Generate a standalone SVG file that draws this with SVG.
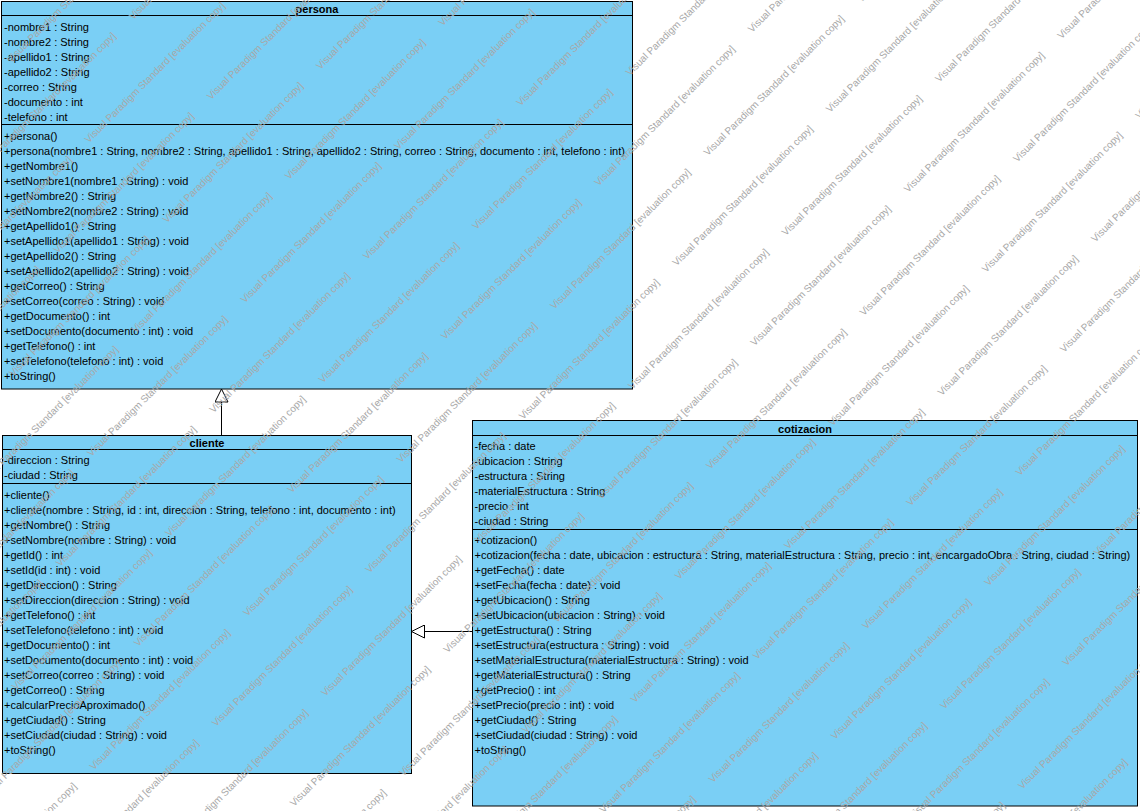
<svg xmlns="http://www.w3.org/2000/svg" width="1140" height="811" viewBox="0 0 1140 811">
<style>
.box{fill:#7ACFF5;stroke:#000;stroke-width:1}
.sep{stroke:#000;stroke-width:1}
.t{font-family:"Liberation Sans",Arial,sans-serif;font-size:11px;fill:#000}
.h{font-weight:bold;text-anchor:middle}
.wm{font-family:"Liberation Sans",Arial,sans-serif;font-size:10px;fill:#a8a8a8}
.conn{stroke:#000;stroke-width:1;fill:none}
</style>
<defs>
<marker id="gen" markerUnits="userSpaceOnUse" viewBox="0 0 14 14" markerWidth="14" markerHeight="14" refX="13.5" refY="7" orient="auto">
<path d="M0.5,0.5 L13.5,7 L0.5,13.5 Z" fill="#fff" stroke="#000" stroke-width="1"/>
</marker>
</defs>
<rect width="1140" height="811" fill="#fff"/>

<g id="persona">
<rect class="box" x="1.5" y="1.5" width="631" height="387.5"/>
<line class="sep" x1="1.5" y1="15.5" x2="632.5" y2="15.5"/>
<line class="sep" x1="1.5" y1="124.5" x2="632.5" y2="124.5"/>
<text class="t h" x="317" y="13">persona</text>
<text class="t" x="4" y="30.5">-nombre1 : String</text>
<text class="t" x="4" y="45.5">-nombre2 : String</text>
<text class="t" x="4" y="60.5">-apellido1 : String</text>
<text class="t" x="4" y="75.5">-apellido2 : String</text>
<text class="t" x="4" y="90.5">-correo : String</text>
<text class="t" x="4" y="105.5">-documento : int</text>
<text class="t" x="4" y="120.5">-telefono : int</text>
<text class="t" x="4" y="140">+persona()</text>
<text class="t" x="4" y="155">+persona(nombre1 : String, nombre2 : String, apellido1 : String, apellido2 : String, correo : String, documento : int, telefono : int)</text>
<text class="t" x="4" y="170">+getNombre1()</text>
<text class="t" x="4" y="185">+setNombre1(nombre1 : String) : void</text>
<text class="t" x="4" y="200">+getNombre2() : String</text>
<text class="t" x="4" y="215">+setNombre2(nombre2 : String) : void</text>
<text class="t" x="4" y="230">+getApellido1() : String</text>
<text class="t" x="4" y="245">+setApellido1(apellido1 : String) : void</text>
<text class="t" x="4" y="260">+getApellido2() : String</text>
<text class="t" x="4" y="275">+setApellido2(apellido2 : String) : void</text>
<text class="t" x="4" y="290">+getCorreo() : String</text>
<text class="t" x="4" y="305">+setCorreo(correo : String) : void</text>
<text class="t" x="4" y="320">+getDocumento() : int</text>
<text class="t" x="4" y="335">+setDocumento(documento : int) : void</text>
<text class="t" x="4" y="350">+getTelefono() : int</text>
<text class="t" x="4" y="365">+setTelefono(telefono : int) : void</text>
<text class="t" x="4" y="380">+toString()</text>
</g>

<g id="cliente">
<rect class="box" x="2.5" y="435.5" width="409" height="338"/>
<line class="sep" x1="2.5" y1="449.5" x2="411.5" y2="449.5"/>
<line class="sep" x1="2.5" y1="483.5" x2="411.5" y2="483.5"/>
<text class="t h" x="207" y="447">cliente</text>
<text class="t" x="4" y="464">-direccion : String</text>
<text class="t" x="4" y="479">-ciudad : String</text>
<text class="t" x="4" y="498.5">+cliente()</text>
<text class="t" x="4" y="513.5">+cliente(nombre : String, id : int, direccion : String, telefono : int, documento : int)</text>
<text class="t" x="4" y="528.5">+getNombre() : String</text>
<text class="t" x="4" y="543.5">+setNombre(nombre : String) : void</text>
<text class="t" x="4" y="558.5">+getId() : int</text>
<text class="t" x="4" y="573.5">+setId(id : int) : void</text>
<text class="t" x="4" y="588.5">+getDireccion() : String</text>
<text class="t" x="4" y="603.5">+setDireccion(direccion : String) : void</text>
<text class="t" x="4" y="618.5">+getTelefono() : int</text>
<text class="t" x="4" y="633.5">+setTelefono(telefono : int) : void</text>
<text class="t" x="4" y="648.5">+getDocumento() : int</text>
<text class="t" x="4" y="663.5">+setDocumento(documento : int) : void</text>
<text class="t" x="4" y="678.5">+setCorreo(correo : String) : void</text>
<text class="t" x="4" y="693.5">+getCorreo() : String</text>
<text class="t" x="4" y="708.5">+calcularPrecioAproximado()</text>
<text class="t" x="4" y="723.5">+getCiudad() : String</text>
<text class="t" x="4" y="738.5">+setCiudad(ciudad : String) : void</text>
<text class="t" x="4" y="753.5">+toString()</text>
</g>

<g id="cotizacion">
<rect class="box" x="472.5" y="420.5" width="665" height="385.5"/>
<line class="sep" x1="472.5" y1="435.5" x2="1137.5" y2="435.5"/>
<line class="sep" x1="472.5" y1="529.5" x2="1137.5" y2="529.5"/>
<text class="t h" x="805" y="432.5">cotizacion</text>
<text class="t" x="474.5" y="450">-fecha : date</text>
<text class="t" x="474.5" y="465">-ubicacion : String</text>
<text class="t" x="474.5" y="480">-estructura : String</text>
<text class="t" x="474.5" y="495">-materialEstructura : String</text>
<text class="t" x="474.5" y="510">-precio : int</text>
<text class="t" x="474.5" y="525">-ciudad : String</text>
<text class="t" x="474.5" y="544">+cotizacion()</text>
<text class="t" x="474.5" y="559">+cotizacion(fecha : date, ubicacion : estructura : String, materialEstructura : String, precio : int, encargadoObra : String, ciudad : String)</text>
<text class="t" x="474.5" y="574">+getFecha() : date</text>
<text class="t" x="474.5" y="589">+setFecha(fecha : date) : void</text>
<text class="t" x="474.5" y="604">+getUbicacion() : String</text>
<text class="t" x="474.5" y="619">+setUbicacion(ubicacion : String) : void</text>
<text class="t" x="474.5" y="634">+getEstructura() : String</text>
<text class="t" x="474.5" y="649">+setEstructura(estructura : String) : void</text>
<text class="t" x="474.5" y="664">+setMaterialEstructura(materialEstructura : String) : void</text>
<text class="t" x="474.5" y="679">+getMaterialEstructura() : String</text>
<text class="t" x="474.5" y="694">+getPrecio() : int</text>
<text class="t" x="474.5" y="709">+setPrecio(precio : int) : void</text>
<text class="t" x="474.5" y="724">+getCiudad() : String</text>
<text class="t" x="474.5" y="739">+setCiudad(ciudad : String) : void</text>
<text class="t" x="474.5" y="754">+toString()</text>
</g>

<g id="connectors">
<line class="conn" x1="221.5" y1="435.5" x2="221.5" y2="389" marker-end="url(#gen)"/>
<line class="conn" x1="472.5" y1="631.5" x2="411.5" y2="631.5" marker-end="url(#gen)"/>
</g>

<g id="watermark" class="wm" transform="rotate(-45)">
<text y="52.5"><tspan x="-37.3">Visual Paradigm Standard [evaluation copy]</tspan></text>
<text y="108.3"><tspan x="-137.3">Visual Paradigm Standard [evaluation copy]</tspan><tspan x="79.8">Visual Paradigm Standard [evaluation copy]</tspan></text>
<text y="164.2"><tspan x="-255.8">Visual Paradigm Standard [evaluation copy]</tspan><tspan x="-38.7">Visual Paradigm Standard [evaluation copy]</tspan></text>
<text y="220"><tspan x="-355.8">Visual Paradigm Standard [evaluation copy]</tspan><tspan x="-138.7">Visual Paradigm Standard [evaluation copy]</tspan><tspan x="78.4">Visual Paradigm Standard [evaluation copy]</tspan></text>
<text y="275.9"><tspan x="-257.2">Visual Paradigm Standard [evaluation copy]</tspan><tspan x="-40.1">Visual Paradigm Standard [evaluation copy]</tspan><tspan x="177">Visual Paradigm Standard [evaluation copy]</tspan></text>
<text y="331.7"><tspan x="-357.2">Visual Paradigm Standard [evaluation copy]</tspan><tspan x="-140.1">Visual Paradigm Standard [evaluation copy]</tspan><tspan x="77">Visual Paradigm Standard [evaluation copy]</tspan><tspan x="294.1">Visual Paradigm Standard [evaluation copy]</tspan></text>
<text y="387.6"><tspan x="-475.7">Visual Paradigm Standard [evaluation copy]</tspan><tspan x="-258.6">Visual Paradigm Standard [evaluation copy]</tspan><tspan x="-41.5">Visual Paradigm Standard [evaluation copy]</tspan><tspan x="175.6">Visual Paradigm Standard [evaluation copy]</tspan></text>
<text y="443.4"><tspan x="-575.7">Visual Paradigm Standard [evaluation copy]</tspan><tspan x="-358.6">Visual Paradigm Standard [evaluation copy]</tspan><tspan x="-141.5">Visual Paradigm Standard [evaluation copy]</tspan><tspan x="75.6">Visual Paradigm Standard [evaluation copy]</tspan><tspan x="292.7">Visual Paradigm Standard [evaluation copy]</tspan></text>
<text y="499.3"><tspan x="-477.1">Visual Paradigm Standard [evaluation copy]</tspan><tspan x="-260">Visual Paradigm Standard [evaluation copy]</tspan><tspan x="-42.9">Visual Paradigm Standard [evaluation copy]</tspan><tspan x="174.2">Visual Paradigm Standard [evaluation copy]</tspan><tspan x="391.3">Visual Paradigm Standard [evaluation copy]</tspan></text>
<text y="555.1"><tspan x="-577.1">Visual Paradigm Standard [evaluation copy]</tspan><tspan x="-360">Visual Paradigm Standard [evaluation copy]</tspan><tspan x="-142.9">Visual Paradigm Standard [evaluation copy]</tspan><tspan x="74.2">Visual Paradigm Standard [evaluation copy]</tspan><tspan x="291.3">Visual Paradigm Standard [evaluation copy]</tspan><tspan x="508.4">Visual Paradigm Standard [evaluation copy]</tspan></text>
<text y="611"><tspan x="-695.6">Visual Paradigm Standard [evaluation copy]</tspan><tspan x="-478.5">Visual Paradigm Standard [evaluation copy]</tspan><tspan x="-261.4">Visual Paradigm Standard [evaluation copy]</tspan><tspan x="-44.3">Visual Paradigm Standard [evaluation copy]</tspan><tspan x="172.8">Visual Paradigm Standard [evaluation copy]</tspan><tspan x="389.9">Visual Paradigm Standard [evaluation copy]</tspan><tspan x="607">Visual Paradigm Standard [evaluation copy]</tspan></text>
<text y="666.8"><tspan x="-578.5">Visual Paradigm Standard [evaluation copy]</tspan><tspan x="-361.4">Visual Paradigm Standard [evaluation copy]</tspan><tspan x="-144.3">Visual Paradigm Standard [evaluation copy]</tspan><tspan x="72.8">Visual Paradigm Standard [evaluation copy]</tspan><tspan x="289.9">Visual Paradigm Standard [evaluation copy]</tspan><tspan x="507">Visual Paradigm Standard [evaluation copy]</tspan></text>
<text y="722.7"><tspan x="-479.9">Visual Paradigm Standard [evaluation copy]</tspan><tspan x="-262.8">Visual Paradigm Standard [evaluation copy]</tspan><tspan x="-45.7">Visual Paradigm Standard [evaluation copy]</tspan><tspan x="171.4">Visual Paradigm Standard [evaluation copy]</tspan><tspan x="388.5">Visual Paradigm Standard [evaluation copy]</tspan><tspan x="605.6">Visual Paradigm Standard [evaluation copy]</tspan></text>
<text y="778.5"><tspan x="-362.8">Visual Paradigm Standard [evaluation copy]</tspan><tspan x="-145.7">Visual Paradigm Standard [evaluation copy]</tspan><tspan x="71.4">Visual Paradigm Standard [evaluation copy]</tspan><tspan x="288.5">Visual Paradigm Standard [evaluation copy]</tspan><tspan x="505.6">Visual Paradigm Standard [evaluation copy]</tspan><tspan x="722.7">Visual Paradigm Standard [evaluation copy]</tspan></text>
<text y="834.4"><tspan x="-481.3">Visual Paradigm Standard [evaluation copy]</tspan><tspan x="-264.2">Visual Paradigm Standard [evaluation copy]</tspan><tspan x="-47.1">Visual Paradigm Standard [evaluation copy]</tspan><tspan x="170">Visual Paradigm Standard [evaluation copy]</tspan><tspan x="387.1">Visual Paradigm Standard [evaluation copy]</tspan><tspan x="604.2">Visual Paradigm Standard [evaluation copy]</tspan></text>
<text y="890.2"><tspan x="-364.2">Visual Paradigm Standard [evaluation copy]</tspan><tspan x="-147.1">Visual Paradigm Standard [evaluation copy]</tspan><tspan x="70">Visual Paradigm Standard [evaluation copy]</tspan><tspan x="287.1">Visual Paradigm Standard [evaluation copy]</tspan><tspan x="504.2">Visual Paradigm Standard [evaluation copy]</tspan><tspan x="721.3">Visual Paradigm Standard [evaluation copy]</tspan></text>
<text y="946.1"><tspan x="-265.6">Visual Paradigm Standard [evaluation copy]</tspan><tspan x="-48.5">Visual Paradigm Standard [evaluation copy]</tspan><tspan x="168.6">Visual Paradigm Standard [evaluation copy]</tspan><tspan x="385.7">Visual Paradigm Standard [evaluation copy]</tspan><tspan x="602.8">Visual Paradigm Standard [evaluation copy]</tspan></text>
<text y="1001.9"><tspan x="-148.5">Visual Paradigm Standard [evaluation copy]</tspan><tspan x="68.6">Visual Paradigm Standard [evaluation copy]</tspan><tspan x="285.7">Visual Paradigm Standard [evaluation copy]</tspan><tspan x="502.8">Visual Paradigm Standard [evaluation copy]</tspan></text>
<text y="1057.8"><tspan x="-267">Visual Paradigm Standard [evaluation copy]</tspan><tspan x="-49.9">Visual Paradigm Standard [evaluation copy]</tspan><tspan x="167.2">Visual Paradigm Standard [evaluation copy]</tspan><tspan x="384.3">Visual Paradigm Standard [evaluation copy]</tspan></text>
<text y="1113.6"><tspan x="-149.9">Visual Paradigm Standard [evaluation copy]</tspan><tspan x="67.2">Visual Paradigm Standard [evaluation copy]</tspan><tspan x="284.3">Visual Paradigm Standard [evaluation copy]</tspan></text>
<text y="1169.5"><tspan x="-51.3">Visual Paradigm Standard [evaluation copy]</tspan><tspan x="165.8">Visual Paradigm Standard [evaluation copy]</tspan><tspan x="382.9">Visual Paradigm Standard [evaluation copy]</tspan></text>
<text y="1225.3"><tspan x="65.8">Visual Paradigm Standard [evaluation copy]</tspan><tspan x="282.9">Visual Paradigm Standard [evaluation copy]</tspan></text>
<text y="1281.2"><tspan x="-52.7">Visual Paradigm Standard [evaluation copy]</tspan><tspan x="164.4">Visual Paradigm Standard [evaluation copy]</tspan></text>
<text y="1337"><tspan x="64.4">Visual Paradigm Standard [evaluation copy]</tspan></text>
</g>
</svg>
